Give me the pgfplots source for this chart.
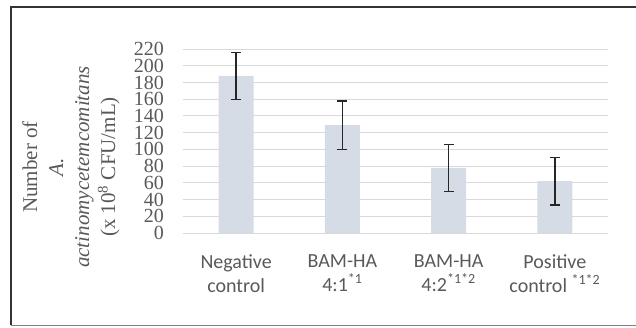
\documentclass[border=0pt]{standalone}
\usepackage{fontspec}
\setmainfont{Liberation Serif}
\newfontfamily\carlito{Carlito}
\usepackage{pgfplots}
\pgfplotsset{compat=1.18}
\definecolor{barfill}{HTML}{D6DCE5}
\definecolor{gridc}{HTML}{D9D9D9}
\definecolor{txt}{HTML}{595959}
\begin{document}
\begin{tikzpicture}
\begin{axis}[
  at={(0pt,0pt)}, anchor=south west,
  scale only axis, width=425pt, height=184pt,
  xmin=-0.5, xmax=3.5, ymin=0, ymax=220,
  ytick={0,20,...,220},
  xtick={0,1,2,3},
  xticklabels={{Negative\\control},{BAM-HA\\4:1\textsuperscript{*1}},{BAM-HA\\4:2\textsuperscript{*1*2}},{Positive\\control \textsuperscript{*1*2}}},
  axis line style={draw=none},
  major tick length=0pt,
  ymajorgrids, grid style={gridc, line width=1pt},
  /pgf/number format/assume math mode=true,
  yticklabel style={font=\fontsize{20}{20}\selectfont, text=txt, anchor=east, inner sep=0pt, xshift=-19pt},
  xticklabel style={font=\carlito\fontsize{20}{24}\selectfont, text=txt, align=center, anchor=north, inner sep=0pt, yshift=-21pt},
  ybar, bar width=35pt,
  clip=false,
]
\addplot[fill=barfill, draw=none,
  error bars/.cd, y dir=both, y explicit,
  error bar style={black!85, line width=1.3pt},
  error mark options={rotate=90, mark size=5pt, line width=1.3pt, black!85}]
  table[x=x, y=y, y error=e] {
x y e
0 188 28
1 129 29
2 78 28
3 62 28.5
};
\end{axis}
\node[rotate=90, align=center, text=txt, font=\fontsize{21}{26}\selectfont] at (-112pt,66pt)
  {Number of\\ \textit{A.}\\ \textit{actinomycetemcomitans}\\ (x 10\textsuperscript{8} CFU/mL)};
\draw[black!80, line width=2pt] (-172pt,-92pt) -- (-172pt,226pt) -- (460pt,226pt);
\draw[black!50, line width=1pt] (-172pt,-92pt) -- (460pt,-92pt);
\pgfresetboundingbox
\path[use as bounding box] (-183pt,-94pt) rectangle (453pt,233pt);
\end{tikzpicture}
\end{document}
